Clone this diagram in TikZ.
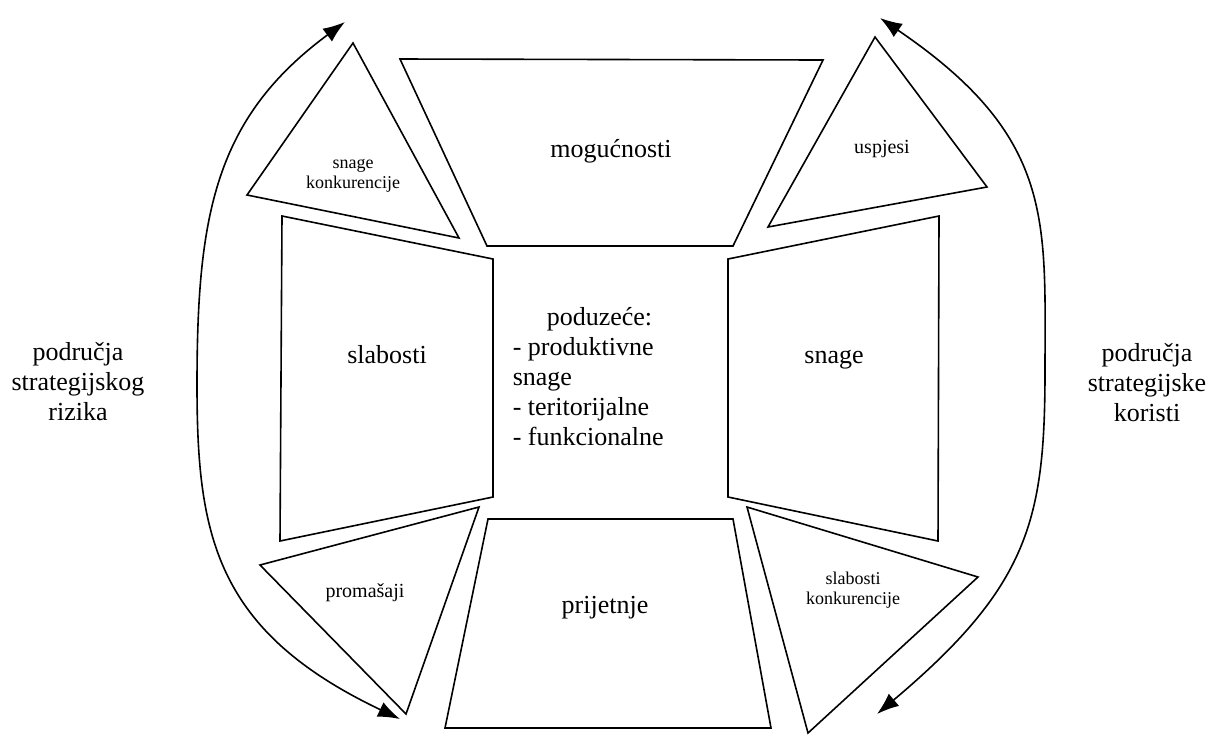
\documentclass[tikz,border=0pt]{standalone}
\usepackage{fontspec}
\setmainfont{Liberation Serif}[Ligatures=TeX]
\usetikzlibrary{arrows.meta}
\begin{document}
\begin{tikzpicture}[x=0.5pt,y=-0.5pt,line width=0.8pt,
  lab/.style={font=\rmfamily\fontsize{13}{15}\selectfont,inner sep=0pt},
  small/.style={font=\rmfamily\fontsize{9}{10}\selectfont,align=center,inner sep=0pt},
  mid/.style={font=\rmfamily\fontsize{10}{12}\selectfont,inner sep=0pt,anchor=base},
  swing/.style={line width=0.8pt,{Latex[length=11pt,width=8pt]}-{Latex[length=11pt,width=8pt]}}]
\useasboundingbox (0,0) rectangle (1214,735);
% fields round the firm
\draw (400,59)--(823,60)--(733,246)--(487,246)--cycle;
\draw (282,216)--(493,259)--(493,497)--(280,541)--cycle;
\draw (939,216)--(728,259)--(728,497)--(938,541)--cycle;
\draw (488,519)--(733,519)--(771,728)--(445,728)--cycle;
% corner triangles
\draw (353,43)--(459,238)--(247,195)--cycle;
\draw (875,37)--(987,187)--(768,227)--cycle;
\draw (479,507)--(406,714)--(260,565)--cycle;
\draw (747,507)--(978,577)--(808,733)--cycle;
% labels
\node[lab,anchor=base] (mog) at (611,157) {mogućnosti};
\node[lab,anchor=base] (slab) at (387,363) {slabosti};
\node[lab,anchor=base] (snag) at (834,363) {snage};
\node[lab,anchor=base] (prij) at (605,613) {prijetnje};
\node[lab,align=left,anchor=west] (firm) at (512,377) {\hspace*{17pt}poduzeće:\\- produktivne\\snage\\- teritorijalne\\- funkcionalne};
\node[small] (rivS) at (353,176) {snage\\konkurencije};
\node[mid] (usp) at (882,153) {uspjesi};
\node[mid] (prom) at (365,597) {promašaji};
\node[small] (rivW) at (853,590) {slabosti\\konkurencije};
\node[lab,align=center] (risk) at (78,382) {područja\\strategijskog\\rizika};
\node[lab,align=center] (gain) at (1147,383) {područja\\strategijske\\koristi};
% the two swings
\coordinate (riskTop) at (345,22);
\coordinate (riskBot) at (400,719);
\coordinate (gainTop) at (880,18);
\coordinate (gainBot) at (877,714);
\draw[swing] (riskTop) .. controls (215,118) and (197,215) .. (197,385) .. controls (197,535) and (215,631) .. (riskBot);
\draw[swing] (gainTop) .. controls (1055,137) and (1045,220) .. (1045,370) .. controls (1045,520) and (1029,586) .. (gainBot);
\end{tikzpicture}
\end{document}
